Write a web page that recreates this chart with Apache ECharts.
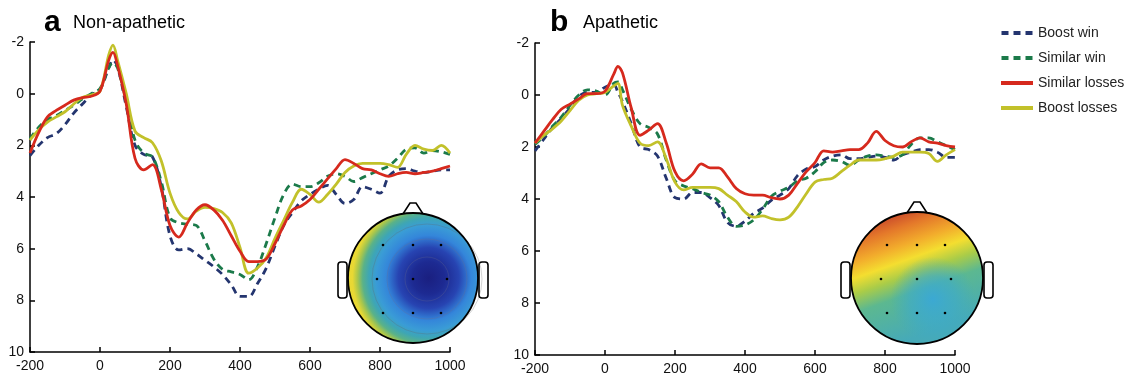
<!DOCTYPE html>
<html>
<head>
<meta charset="utf-8">
<script src="https://cdn.jsdelivr.net/npm/echarts@6/dist/echarts.min.js"></script>
<style>
html,body{margin:0;padding:0;background:#fff;}
#chart{width:1130px;height:377px;}
</style>
</head>
<body>
<div id="chart"></div>
<script>
// time points (ms)
const times = [-200,-175,-150,-125,-100,-75,-50,-25,0,25,37,50,75,100,125,150,175,200,225,250,275,300,325,350,375,400,425,450,475,500,525,550,575,600,625,650,675,700,725,750,775,800,825,850,875,900,925,950,975,1000];

// Panel a: Non-apathetic
const boostWinA    = [2.4,2.0,1.7,1.55,1.2,0.75,0.4,0.05,-0.15,-1.0,-1.3,-1.05,0.5,2.0,2.35,2.45,3.6,5.5,6.05,6.0,6.2,6.45,6.7,7.0,7.4,7.85,7.85,7.35,6.75,5.9,5.1,4.6,4.15,3.9,3.7,3.55,3.9,4.25,4.1,3.6,3.7,3.85,3.2,2.95,2.9,3.0,3.05,3.0,2.95,2.95];
const similarWinA  = [1.75,1.3,1.0,0.85,0.65,0.45,0.2,0.0,-0.2,-1.0,-1.2,-1.0,0.3,1.8,2.3,2.45,3.4,4.8,5.0,5.05,5.1,5.7,6.4,6.8,6.9,7.0,7.2,6.7,5.8,4.8,3.9,3.5,3.6,3.6,3.45,3.2,3.1,3.2,3.4,3.25,3.1,2.95,2.8,2.5,2.15,2.1,2.3,2.2,2.25,2.35];
const similarLossA = [2.3,1.5,0.9,0.65,0.45,0.25,0.15,0.1,-0.1,-1.3,-1.6,-1.1,0.4,2.5,2.95,2.75,3.7,5.1,5.55,5.0,4.5,4.3,4.5,4.9,5.5,6.1,6.5,6.5,6.4,5.8,5.1,4.5,4.35,4.1,3.7,3.3,2.9,2.55,2.7,2.9,2.95,3.1,3.2,3.1,3.05,3.1,3.05,3.0,2.9,2.8];
const boostLossA   = [1.8,1.4,1.1,0.9,0.7,0.4,0.15,0.05,-0.1,-1.5,-1.88,-1.3,0.0,1.45,1.7,1.9,2.6,3.85,4.6,4.85,4.55,4.4,4.45,4.6,5.0,5.95,6.95,6.75,6.35,5.6,4.9,4.2,3.7,3.9,4.2,3.9,3.5,3.05,2.8,2.7,2.7,2.7,2.75,2.85,2.35,2.0,2.15,2.2,2.0,2.3];

// Panel b: Apathetic
const boostWinB    = [2.15,1.7,1.25,0.9,0.5,0.05,-0.1,-0.1,-0.3,-0.4,-0.1,0.25,1.1,2.0,2.1,2.35,3.2,3.95,4.0,3.75,3.75,3.95,4.25,4.9,5.05,4.85,4.55,4.35,4.05,3.85,3.6,3.1,2.85,2.75,2.5,2.35,2.3,2.45,2.45,2.4,2.35,2.4,2.5,2.3,2.2,2.1,2.1,2.2,2.4,2.4];
const similarWinB  = [1.9,1.6,1.2,0.85,0.4,0.0,-0.2,-0.15,0.0,-0.45,-0.5,-0.2,0.55,1.1,1.25,1.5,2.5,3.3,3.5,3.6,3.75,3.85,4.1,4.7,5.05,5.0,4.8,4.4,3.9,3.7,3.55,3.3,3.2,2.95,2.6,2.5,2.55,2.7,2.5,2.35,2.3,2.35,2.4,2.3,1.9,1.65,1.65,1.8,1.95,2.1];
const similarLossB = [1.85,1.4,0.95,0.55,0.35,0.15,-0.05,-0.05,-0.15,-0.8,-1.1,-0.85,0.5,1.55,1.35,1.1,1.85,2.95,3.3,3.05,2.65,2.8,2.8,3.15,3.6,3.8,3.85,3.85,3.95,4.0,3.85,3.4,2.95,2.6,2.15,2.2,2.15,2.1,2.1,1.85,1.4,1.75,1.95,2.0,1.8,1.65,1.8,1.85,1.95,2.0];
const boostLossB   = [1.85,1.55,1.3,1.0,0.6,0.2,0.0,-0.05,-0.1,-0.35,-0.45,0.4,1.2,1.85,1.95,1.8,2.45,3.35,3.65,3.55,3.55,3.55,3.6,3.85,4.1,4.5,4.7,4.65,4.75,4.8,4.7,4.3,3.8,3.35,3.25,3.2,2.95,2.7,2.5,2.5,2.5,2.45,2.35,2.2,2.2,2.2,2.25,2.55,2.3,2.1];

const seriesNames = ['Boost win','Similar win','Similar losses','Boost losses'];
const panelTitles = ['Non-apathetic','Apathetic'];
const panelLetters = ['a','b'];
const xTicks = {min:-200, max:1000, interval:200};
const yTicks = {min:-2, max:10, interval:2};

const FONT = '"Liberation Sans", Arial, Helvetica, sans-serif';
const colors = {'Boost win':'#24356f','Similar win':'#1b7a4a','Similar losses':'#d6291d','Boost losses':'#c2c12a'};
const dashed = {'Boost win':true,'Similar win':true,'Similar losses':false,'Boost losses':false};

const panelData = [
  {'Boost win':boostWinA,'Similar win':similarWinA,'Similar losses':similarLossA,'Boost losses':boostLossA},
  {'Boost win':boostWinB,'Similar win':similarWinB,'Similar losses':similarLossB,'Boost losses':boostLossB}
];

const chart = echarts.init(document.getElementById('chart'), null, {renderer:'canvas'});

const grids = [
  {left:30, top:42, width:420, height:310},
  {left:535, top:43, width:420, height:312}
];

function xAxis(i){
  return {type:'value', gridIndex:i, min:xTicks.min, max:xTicks.max, interval:xTicks.interval,
    axisLine:{show:true, onZero:false, lineStyle:{color:'#000', width:1.5}},
    axisTick:{show:true, inside:true, length:5, lineStyle:{color:'#000', width:1.5}},
    axisLabel:{color:'#111', fontSize:14, fontFamily:FONT, margin:7, formatter: v => String(v)},
    splitLine:{show:false}};
}
function yAxis(i){
  return {type:'value', gridIndex:i, inverse:true, min:yTicks.min, max:yTicks.max, interval:yTicks.interval,
    axisLine:{show:true, onZero:false, lineStyle:{color:'#000', width:1.5}},
    axisTick:{show:true, inside:true, length:5, lineStyle:{color:'#000', width:1.5}},
    axisLabel:{color:'#111', fontSize:14, fontFamily:FONT, margin:6, formatter: v => String(v)},
    splitLine:{show:false}};
}

const drawOrder = ['Boost win','Similar win','Boost losses','Similar losses'];
const series = [];
panelData.forEach((pd, pi) => {
  drawOrder.forEach(name => {
    series.push({
      name: name, type:'line', xAxisIndex:pi, yAxisIndex:pi,
      data: times.map((t,k) => [t, pd[name][k]]),
      smooth: 0.35, symbol:'none', showSymbol:false,
      lineStyle:{color:colors[name], width:2.8, type: dashed[name] ? [7,5] : 'solid'},
      itemStyle:{color:colors[name]},
      z: 2
    });
  });
});

const dashIcon = 'path://M0,0h7v4h-7z M12,0h7v4h-7z M24,0h7v4h-7z';
const solidIcon = 'path://M0,0h32v4h-32z';

// head drawings (decorative topographic maps)
function head(cx, cy, r, fills, dots, extra){
  const children = [];
  children.push({type:'rect', shape:{x:cx-r-10, y:cy-16, width:9, height:36, r:3}, style:{fill:'#fff', stroke:'#000', lineWidth:1.6}});
  children.push({type:'rect', shape:{x:cx+r+1, y:cy-16, width:9, height:36, r:3}, style:{fill:'#fff', stroke:'#000', lineWidth:1.6}});
  children.push({type:'polyline', shape:{points:[[cx-12,cy-r+4],[cx-3,cy-r-10],[cx+3,cy-r-10],[cx+12,cy-r+4]]}, style:{fill:'#fff', stroke:'#000', lineWidth:1.6}});
  fills.forEach(f => children.push({type:'circle', shape:{cx:cx, cy:cy, r:r}, style:{fill:f}}));
  (extra||[]).forEach(e => children.push(e));
  children.push({type:'circle', shape:{cx:cx, cy:cy, r:r}, style:{fill:'none', stroke:'#000', lineWidth:1.8}});
  dots.forEach(d => children.push({type:'circle', shape:{cx:cx+d[0], cy:cy+d[1], r:1.3}, style:{fill:'#000'}}));
  return {type:'group', z:50, children:children};
}
const dotsOffsets = [[-30,-33],[0,-33],[28,-33],[-36,1],[0,1],[34,1],[-30,35],[0,35],[28,35]];

const headA = head(413, 278, 65, [
  {type:'radial', x:0.62, y:0.5, r:0.78, colorStops:[
    {offset:0, color:'#1a1f80'},{offset:0.16, color:'#1d2a92'},{offset:0.3, color:'#2744b2'},
    {offset:0.42, color:'#3486da'},{offset:0.52, color:'#3a9cd6'},{offset:0.59, color:'#3ea6b4'},
    {offset:0.65, color:'#5ab288'},{offset:0.7, color:'#a8c64c'},{offset:0.75, color:'#e8d834'},{offset:1, color:'#f6dc2c'}]}
], dotsOffsets, [
  {type:'circle', shape:{cx:427, cy:279, r:22}, style:{fill:'none', stroke:'rgba(110,110,140,0.35)', lineWidth:0.8}},
  {type:'circle', shape:{cx:427, cy:279, r:40}, style:{fill:'none', stroke:'rgba(110,110,140,0.35)', lineWidth:0.8}},
  {type:'circle', shape:{cx:427, cy:279, r:55}, style:{fill:'none', stroke:'rgba(100,100,100,0.35)', lineWidth:0.8}}
]);

const headB = head(917, 278, 66, [
  {type:'linear', x:0.3, y:0.0, x2:0.62, y2:0.9, colorStops:[
    {offset:0, color:'#c4402a'},{offset:0.14, color:'#e4782a'},{offset:0.28, color:'#f2ac2c'},
    {offset:0.4, color:'#f4de30'},{offset:0.52, color:'#aacc48'},{offset:0.66, color:'#5cb890'},{offset:1, color:'#46aab8'}]},
  {type:'radial', x:0.62, y:0.66, r:0.32, colorStops:[
    {offset:0, color:'rgba(58,168,214,0.95)'},{offset:0.55, color:'rgba(60,170,205,0.6)'},{offset:1, color:'rgba(60,170,200,0)'}]}
], dotsOffsets, []);

const option = {
  backgroundColor:'#fff',
  animation:false,
  grid: grids,
  xAxis:[xAxis(0), xAxis(1)],
  yAxis:[yAxis(0), yAxis(1)],
  legend:{orient:'vertical', left:996, top:20, itemWidth:32, itemHeight:4, itemGap:9, itemSymbolKeepAspect:false,
    data: seriesNames.map(n => ({name:n, icon: dashed[n] ? dashIcon : solidIcon})),
    textStyle:{fontSize:14, color:'#222', fontFamily:FONT, lineHeight:16}},
  series: series,
  graphic:[
    {type:'text', left:44, top:8, style:{text:panelLetters[0], font:'bold 30px '+FONT, fill:'#000'}},
    {type:'text', left:73, top:14, style:{text:panelTitles[0], font:'18px '+FONT, fill:'#000'}},
    {type:'text', left:550, top:8, style:{text:panelLetters[1], font:'bold 30px '+FONT, fill:'#000'}},
    {type:'text', left:583, top:14, style:{text:panelTitles[1], font:'18px '+FONT, fill:'#000'}},
    headA, headB
  ]
};
chart.setOption(option);
</script>
</body>
</html>
